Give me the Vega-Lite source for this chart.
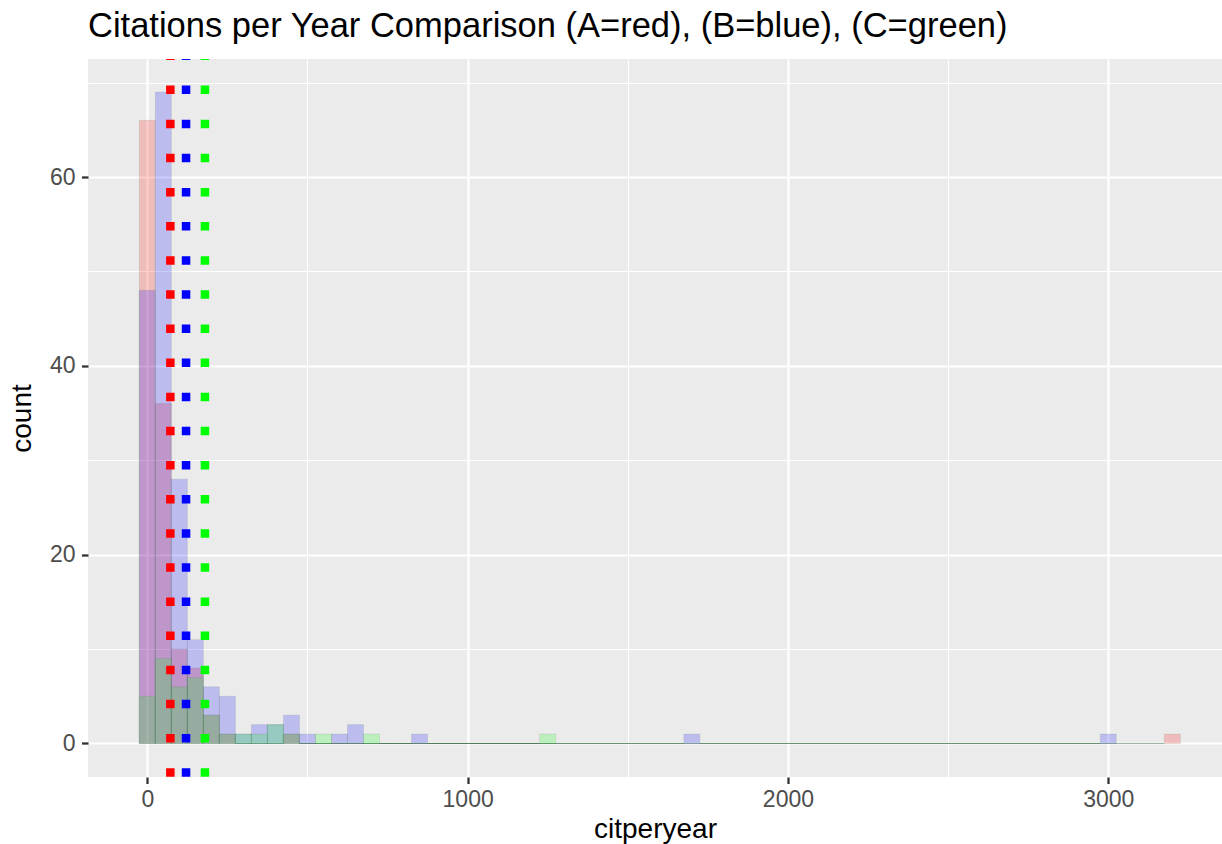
{
"$schema": "https://vega.github.io/schema/vega-lite/v6.json",
"width": 1134, "height": 718,
"autosize": "none",
"padding": {"left": 88, "top": 59, "right": 0, "bottom": 67},
"background": "white",
"title": {"text": "Citations per Year Comparison (A=red), (B=blue), (C=green)", "anchor": "start", "frame": "group", "font": "Liberation Sans", "fontSize": 34.5, "fontWeight": "normal", "color": "black", "baseline": "alphabetic", "offset": 0, "dy": 17},
"config": {
  "view": {"fill": "#EBEBEB", "stroke": null},
  "axis": {"domain": false, "gridColor": "white", "tickColor": "#333333", "tickWidth": 2.3, "tickSize": 6.5, "labelFont": "Liberation Sans", "labelFontSize": 23, "labelColor": "#4D4D4D", "titleFont": "Liberation Sans", "titleFontSize": 28, "titleFontWeight": "normal", "titleColor": "black"}
},
"datasets": {
"bars": [
{"g":"A","lo":-25,"hi":25,"n":66},{"g":"A","lo":25,"hi":75,"n":36},{"g":"A","lo":75,"hi":125,"n":10},{"g":"A","lo":125,"hi":175,"n":8},{"g":"A","lo":175,"hi":225,"n":3},{"g":"A","lo":225,"hi":275,"n":1},{"g":"A","lo":275,"hi":325,"n":0},{"g":"A","lo":325,"hi":375,"n":0},{"g":"A","lo":375,"hi":425,"n":0},{"g":"A","lo":425,"hi":475,"n":1},
{"g":"A","lo":475,"hi":525,"n":0},{"g":"A","lo":525,"hi":575,"n":0},{"g":"A","lo":575,"hi":625,"n":0},{"g":"A","lo":625,"hi":675,"n":0},{"g":"A","lo":675,"hi":725,"n":0},{"g":"A","lo":725,"hi":775,"n":0},{"g":"A","lo":775,"hi":825,"n":0},{"g":"A","lo":825,"hi":875,"n":0},{"g":"A","lo":875,"hi":925,"n":0},{"g":"A","lo":925,"hi":975,"n":0},
{"g":"A","lo":975,"hi":1025,"n":0},{"g":"A","lo":1025,"hi":1075,"n":0},{"g":"A","lo":1075,"hi":1125,"n":0},{"g":"A","lo":1125,"hi":1175,"n":0},{"g":"A","lo":1175,"hi":1225,"n":0},{"g":"A","lo":1225,"hi":1275,"n":0},{"g":"A","lo":1275,"hi":1325,"n":0},{"g":"A","lo":1325,"hi":1375,"n":0},{"g":"A","lo":1375,"hi":1425,"n":0},{"g":"A","lo":1425,"hi":1475,"n":0},
{"g":"A","lo":1475,"hi":1525,"n":0},{"g":"A","lo":1525,"hi":1575,"n":0},{"g":"A","lo":1575,"hi":1625,"n":0},{"g":"A","lo":1625,"hi":1675,"n":0},{"g":"A","lo":1675,"hi":1725,"n":0},{"g":"A","lo":1725,"hi":1775,"n":0},{"g":"A","lo":1775,"hi":1825,"n":0},{"g":"A","lo":1825,"hi":1875,"n":0},{"g":"A","lo":1875,"hi":1925,"n":0},{"g":"A","lo":1925,"hi":1975,"n":0},
{"g":"A","lo":1975,"hi":2025,"n":0},{"g":"A","lo":2025,"hi":2075,"n":0},{"g":"A","lo":2075,"hi":2125,"n":0},{"g":"A","lo":2125,"hi":2175,"n":0},{"g":"A","lo":2175,"hi":2225,"n":0},{"g":"A","lo":2225,"hi":2275,"n":0},{"g":"A","lo":2275,"hi":2325,"n":0},{"g":"A","lo":2325,"hi":2375,"n":0},{"g":"A","lo":2375,"hi":2425,"n":0},{"g":"A","lo":2425,"hi":2475,"n":0},
{"g":"A","lo":2475,"hi":2525,"n":0},{"g":"A","lo":2525,"hi":2575,"n":0},{"g":"A","lo":2575,"hi":2625,"n":0},{"g":"A","lo":2625,"hi":2675,"n":0},{"g":"A","lo":2675,"hi":2725,"n":0},{"g":"A","lo":2725,"hi":2775,"n":0},{"g":"A","lo":2775,"hi":2825,"n":0},{"g":"A","lo":2825,"hi":2875,"n":0},{"g":"A","lo":2875,"hi":2925,"n":0},{"g":"A","lo":2925,"hi":2975,"n":0},
{"g":"A","lo":2975,"hi":3025,"n":0},{"g":"A","lo":3025,"hi":3075,"n":0},{"g":"A","lo":3075,"hi":3125,"n":0},{"g":"A","lo":3125,"hi":3175,"n":0},{"g":"A","lo":3175,"hi":3225,"n":1},
{"g":"B","lo":-25,"hi":25,"n":48},{"g":"B","lo":25,"hi":75,"n":69},{"g":"B","lo":75,"hi":125,"n":28},{"g":"B","lo":125,"hi":175,"n":11},{"g":"B","lo":175,"hi":225,"n":6},{"g":"B","lo":225,"hi":275,"n":5},{"g":"B","lo":275,"hi":325,"n":1},{"g":"B","lo":325,"hi":375,"n":2},{"g":"B","lo":375,"hi":425,"n":2},{"g":"B","lo":425,"hi":475,"n":3},
{"g":"B","lo":475,"hi":525,"n":1},{"g":"B","lo":525,"hi":575,"n":0},{"g":"B","lo":575,"hi":625,"n":1},{"g":"B","lo":625,"hi":675,"n":2},{"g":"B","lo":675,"hi":725,"n":0},{"g":"B","lo":725,"hi":775,"n":0},{"g":"B","lo":775,"hi":825,"n":0},{"g":"B","lo":825,"hi":875,"n":1},{"g":"B","lo":875,"hi":925,"n":0},{"g":"B","lo":925,"hi":975,"n":0},
{"g":"B","lo":975,"hi":1025,"n":0},{"g":"B","lo":1025,"hi":1075,"n":0},{"g":"B","lo":1075,"hi":1125,"n":0},{"g":"B","lo":1125,"hi":1175,"n":0},{"g":"B","lo":1175,"hi":1225,"n":0},{"g":"B","lo":1225,"hi":1275,"n":0},{"g":"B","lo":1275,"hi":1325,"n":0},{"g":"B","lo":1325,"hi":1375,"n":0},{"g":"B","lo":1375,"hi":1425,"n":0},{"g":"B","lo":1425,"hi":1475,"n":0},
{"g":"B","lo":1475,"hi":1525,"n":0},{"g":"B","lo":1525,"hi":1575,"n":0},{"g":"B","lo":1575,"hi":1625,"n":0},{"g":"B","lo":1625,"hi":1675,"n":0},{"g":"B","lo":1675,"hi":1725,"n":1},{"g":"B","lo":1725,"hi":1775,"n":0},{"g":"B","lo":1775,"hi":1825,"n":0},{"g":"B","lo":1825,"hi":1875,"n":0},{"g":"B","lo":1875,"hi":1925,"n":0},{"g":"B","lo":1925,"hi":1975,"n":0},
{"g":"B","lo":1975,"hi":2025,"n":0},{"g":"B","lo":2025,"hi":2075,"n":0},{"g":"B","lo":2075,"hi":2125,"n":0},{"g":"B","lo":2125,"hi":2175,"n":0},{"g":"B","lo":2175,"hi":2225,"n":0},{"g":"B","lo":2225,"hi":2275,"n":0},{"g":"B","lo":2275,"hi":2325,"n":0},{"g":"B","lo":2325,"hi":2375,"n":0},{"g":"B","lo":2375,"hi":2425,"n":0},{"g":"B","lo":2425,"hi":2475,"n":0},
{"g":"B","lo":2475,"hi":2525,"n":0},{"g":"B","lo":2525,"hi":2575,"n":0},{"g":"B","lo":2575,"hi":2625,"n":0},{"g":"B","lo":2625,"hi":2675,"n":0},{"g":"B","lo":2675,"hi":2725,"n":0},{"g":"B","lo":2725,"hi":2775,"n":0},{"g":"B","lo":2775,"hi":2825,"n":0},{"g":"B","lo":2825,"hi":2875,"n":0},{"g":"B","lo":2875,"hi":2925,"n":0},{"g":"B","lo":2925,"hi":2975,"n":0},
{"g":"B","lo":2975,"hi":3025,"n":1},
{"g":"C","lo":-25,"hi":25,"n":5},{"g":"C","lo":25,"hi":75,"n":9},{"g":"C","lo":75,"hi":125,"n":6},{"g":"C","lo":125,"hi":175,"n":7},{"g":"C","lo":175,"hi":225,"n":3},{"g":"C","lo":225,"hi":275,"n":1},{"g":"C","lo":275,"hi":325,"n":1},{"g":"C","lo":325,"hi":375,"n":1},{"g":"C","lo":375,"hi":425,"n":2},{"g":"C","lo":425,"hi":475,"n":1},
{"g":"C","lo":475,"hi":525,"n":0},{"g":"C","lo":525,"hi":575,"n":1},{"g":"C","lo":575,"hi":625,"n":0},{"g":"C","lo":625,"hi":675,"n":0},{"g":"C","lo":675,"hi":725,"n":1},{"g":"C","lo":725,"hi":775,"n":0},{"g":"C","lo":775,"hi":825,"n":0},{"g":"C","lo":825,"hi":875,"n":0},{"g":"C","lo":875,"hi":925,"n":0},{"g":"C","lo":925,"hi":975,"n":0},
{"g":"C","lo":975,"hi":1025,"n":0},{"g":"C","lo":1025,"hi":1075,"n":0},{"g":"C","lo":1075,"hi":1125,"n":0},{"g":"C","lo":1125,"hi":1175,"n":0},{"g":"C","lo":1175,"hi":1225,"n":0},{"g":"C","lo":1225,"hi":1275,"n":1}
],
"means": [{"g":"A","m":72},{"g":"B","m":121},{"g":"C","m":180}]
},
"layer": [
{
  "data": {"name": "bars"},
  "mark": {"type": "rect", "fillOpacity": 0.2, "stroke": "#3a6a4a", "strokeWidth": 1},
  "encoding": {
    "x": {"field": "lo", "type": "quantitative", "title": "citperyear",
      "scale": {"domain": [-185.1, 3355], "nice": false, "zero": false},
      "axis": {"values": [0, 500, 1000, 1500, 2000, 2500, 3000], "labelPadding": 5, "titlePadding": 4,
        "labelExpr": "datum.value % 1000 === 0 ? datum.label : ''", "format": "d",
        "gridWidth": {"condition": {"test": "datum.value % 1000 === 0", "value": 2.2}, "value": 1.1},
        "tickOpacity": {"condition": {"test": "datum.value % 1000 === 0", "value": 1}, "value": 0}}},
    "x2": {"field": "hi"},
    "y": {"field": "n", "type": "quantitative", "title": "count",
      "scale": {"domain": [-3.55, 72.5], "nice": false, "zero": false},
      "axis": {"values": [0, 10, 20, 30, 40, 50, 60, 70], "labelPadding": 6.5, "titlePadding": 13,
        "labelExpr": "datum.value % 20 === 0 ? datum.label : ''",
        "gridWidth": {"condition": {"test": "datum.value % 20 === 0", "value": 2.2}, "value": 1.1},
        "tickOpacity": {"condition": {"test": "datum.value % 20 === 0", "value": 1}, "value": 0}}},
    "y2": {"datum": 0},
    "strokeOpacity": {"condition": {"test": "datum.n === 0", "value": 0.3}, "value": 0.12},
    "fill": {"field": "g", "type": "nominal", "scale": {"domain": ["A", "B", "C"], "range": ["#FF0000", "#0000FF", "#00FF00"]}, "legend": null}
  }
},
{
  "data": {"name": "means"},
  "mark": {"type": "rule", "strokeWidth": 8.5, "strokeDash": [8.5, 25.63], "strokeDashOffset": 7.6, "strokeCap": "butt"},
  "encoding": {
    "x": {"field": "m", "type": "quantitative", "title": "citperyear"},
    "color": {"field": "g", "type": "nominal", "scale": {"domain": ["A", "B", "C"], "range": ["#FF0000", "#0000FF", "#00FF00"]}, "legend": null}
  }
}
]
}
